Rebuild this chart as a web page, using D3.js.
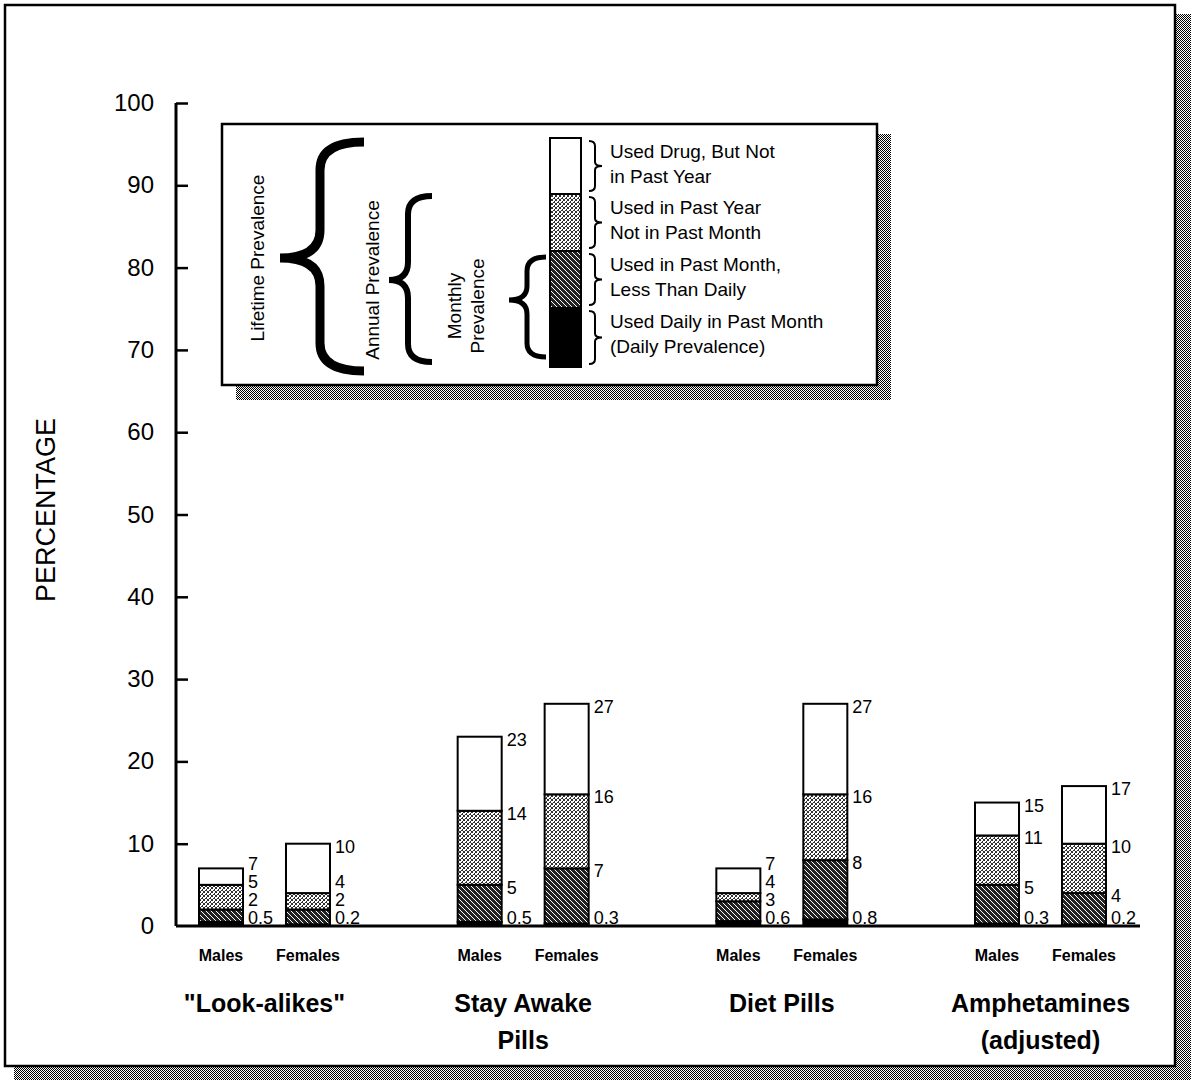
<!DOCTYPE html>
<html><head><meta charset="utf-8">
<script src="https://cdn.jsdelivr.net/npm/d3@7"></script>
<style>body{margin:0;background:#fff}svg{display:block}text{font-family:"Liberation Sans",Arial,Helvetica,sans-serif;fill:#000}</style>
</head><body>
<svg id="c" width="1194" height="1082"></svg>
<script>
const categories = [['"Look-alikes"'], ['Stay Awake','Pills'], ['Diet Pills'], ['Amphetamines','(adjusted)']];
const sexes = ['Males','Females'];
const lifetime = [7,10, 23,27, 7,27, 15,17];
const annual   = [5,4, 14,16, 4,16, 11,10];
const monthly  = [2,2, 5,7, 3,8, 5,4];
const daily    = [0.5,0.2, 0.5,0.3, 0.6,0.8, 0.3,0.2];
const yTicks = [0,10,20,30,40,50,60,70,80,90,100];
const legendItems = [['Used Drug, But Not','in Past Year'],['Used in Past Year','Not in Past Month'],['Used in Past Month,','Less Than Daily'],['Used Daily in Past Month','(Daily Prevalence)']];

const svg = d3.select('#c');
const defs = svg.append('defs');
const hatch = defs.append('pattern').attr('id','hatch').attr('patternUnits','userSpaceOnUse').attr('width',5).attr('height',5);
hatch.append('rect').attr('width',5).attr('height',5).attr('fill','#222');
hatch.append('path').attr('d','M0,0L5,5M-1,4L1,6M4,-1L6,1').attr('stroke','#fff').attr('stroke-width',1);
const stip = defs.append('pattern').attr('id','stip').attr('patternUnits','userSpaceOnUse').attr('width',4).attr('height',4);
stip.append('rect').attr('width',4).attr('height',4).attr('fill','#fff');
[[0,0],[2,1],[1,2],[3,3],[0,3],[2,2],[3,0]].forEach(p=>stip.append('rect').attr('x',p[0]).attr('y',p[1]).attr('width',1).attr('height',1).attr('fill','#333'));
const shad = defs.append('pattern').attr('id','shad').attr('patternUnits','userSpaceOnUse').attr('width',2).attr('height',2);
shad.append('rect').attr('width',2).attr('height',2).attr('fill','#fff');
shad.append('rect').attr('width',1).attr('height',1).attr('fill','#000');
shad.append('rect').attr('x',1).attr('y',1).attr('width',1).attr('height',1).attr('fill','#000');

// frame
svg.append('rect').attr('x',1175).attr('y',14).attr('width',16).attr('height',1066).attr('fill','url(#shad)');
svg.append('rect').attr('x',14).attr('y',1066).attr('width',1177).attr('height',14).attr('fill','url(#shad)');
svg.append('rect').attr('x',5).attr('y',5).attr('width',1170).attr('height',1061).attr('fill','#fff').attr('stroke','#000').attr('stroke-width',2.5);

// scales
const y = d3.scaleLinear().domain([0,100]).range([926,103]);
const gx = d3.scalePoint().domain(d3.range(categories.length)).range([264.5,1040.5]);
const sx = d3.scaleBand().domain(sexes).range([-65.5,65.5]).paddingInner(0.494).paddingOuter(0);
const bw = sx.bandwidth();

// y axis
const yAxis = d3.axisRight(y).tickValues(yTicks).tickSize(12).tickFormat('');
const ag = svg.append('g').attr('transform','translate(176,0)').call(yAxis);
ag.select('.domain').attr('stroke','#000').attr('stroke-width',3).attr('d',`M0,${y(100)}V${y(0)}`);
ag.selectAll('.tick line').attr('stroke','#000').attr('stroke-width',2.5);
ag.selectAll('.tick').filter(d=>d===0).remove();
svg.append('g').selectAll('text').data(yTicks).join('text')
  .attr('x',154).attr('y',d=>y(d)+8).attr('text-anchor','end').attr('font-size',24).text(d=>d);
svg.append('text').attr('transform','translate(55,510) rotate(-90)').attr('text-anchor','middle').attr('font-size',27).text('PERCENTAGE');
svg.append('line').attr('x1',176).attr('x2',1140).attr('y1',y(0)).attr('y2',y(0)).attr('stroke','#000').attr('stroke-width',3);

// bars
const bars = [];
categories.forEach((c,ci)=>sexes.forEach((s,si)=>{
  const i = ci*2+si;
  bars.push({ci, s, x: gx(ci)+sx(s), d: daily[i], m: monthly[i], a: annual[i], l: lifetime[i]});
}));
const bg = svg.append('g');
bars.forEach(b=>{
  const segs = [[0,b.d,'#000'],[b.d,b.m,'url(#hatch)'],[b.m,b.a,'url(#stip)'],[b.a,b.l,'#fff']];
  bg.append('g').selectAll('rect').data(segs).join('rect')
    .attr('x',b.x).attr('width',bw).attr('y',d=>y(d[1])).attr('height',d=>y(d[0])-y(d[1]))
    .attr('fill',d=>d[2]).attr('stroke','#000').attr('stroke-width',2);
  const vals = [b.d,b.m,b.a,b.l];
  const pos = [917];
  let prev = 917;
  for(let k=1;k<4;k++){ const p = Math.min(y(vals[k])+2, prev-18); pos.push(p); prev = p; }
  bg.append('g').selectAll('text').data(vals).join('text')
    .attr('x',b.x+bw+5).attr('y',(d,k)=>pos[k]+7).attr('font-size',18).text(d=>d);
  bg.append('text').attr('x',b.x+bw/2).attr('y',961).attr('text-anchor','middle').attr('font-size',16).attr('font-weight','bold').text(b.s);
});
categories.forEach((c,ci)=>{
  svg.append('text').attr('x',gx(ci)).attr('text-anchor','middle').attr('font-size',25).attr('font-weight','bold')
    .selectAll('tspan').data(c).join('tspan').attr('x',gx(ci)).attr('y',(d,k)=>1012+k*37).text(d=>d);
});

// legend
const L = svg.append('g');
L.append('rect').attr('x',877).attr('y',134).attr('width',14).attr('height',266).attr('fill','url(#shad)');
L.append('rect').attr('x',236).attr('y',385).attr('width',655).attr('height',15).attr('fill','url(#shad)');
L.append('rect').attr('x',222).attr('y',124).attr('width',655).attr('height',261).attr('fill','#fff').attr('stroke','#000').attr('stroke-width',2.5);
function brace(xTip,xSp,xEnd,yT,yB,yM,r){
  return `M${xEnd},${yT}Q${xSp},${yT} ${xSp},${yT+r}L${xSp},${yM-r}Q${xSp},${yM} ${xTip},${yM}Q${xSp},${yM} ${xSp},${yM+r}L${xSp},${yB-r}Q${xSp},${yB} ${xEnd},${yB}`;
}
L.append('path').attr('d',brace(280,320,364,142,371,258,28)).attr('fill','none').attr('stroke','#000').attr('stroke-width',9);
L.append('path').attr('d',brace(389,408,432,196,362,280,18)).attr('fill','none').attr('stroke','#000').attr('stroke-width',6);
L.append('path').attr('d',brace(509,527,546,257,357,300,14)).attr('fill','none').attr('stroke','#000').attr('stroke-width',5);
L.append('text').attr('transform','translate(264,258) rotate(-90)').attr('text-anchor','middle').attr('font-size',19).text('Lifetime Prevalence');
L.append('text').attr('transform','translate(379,280) rotate(-90)').attr('text-anchor','middle').attr('font-size',19).text('Annual Prevalence');
L.append('text').attr('transform','translate(461,306) rotate(-90)').attr('text-anchor','middle').attr('font-size',19).text('Monthly');
L.append('text').attr('transform','translate(484,306) rotate(-90)').attr('text-anchor','middle').attr('font-size',19).text('Prevalence');
const lb = [138,194,251,308,367];
const lfill = ['#fff','url(#stip)','url(#hatch)','#000'];
lfill.forEach((f,k)=>{
  L.append('rect').attr('x',550).attr('y',lb[k]).attr('width',31).attr('height',lb[k+1]-lb[k]).attr('fill',f).attr('stroke','#000').attr('stroke-width',2);
  const t=lb[k]+3, b=lb[k+1]-3, m=(t+b)/2;
  L.append('path').attr('d',`M589,${t}Q595,${t} 595,${t+5}L595,${m-4}Q595,${m} 602,${m}Q595,${m} 595,${m+4}L595,${b-5}Q595,${b} 589,${b}`).attr('fill','none').attr('stroke','#000').attr('stroke-width',2);
  L.append('text').attr('font-size',19).selectAll('tspan').data(legendItems[k]).join('tspan')
    .attr('x',610).attr('y',(d,j)=>t+17+j*25).text(d=>d);
});
</script>
</body></html>
